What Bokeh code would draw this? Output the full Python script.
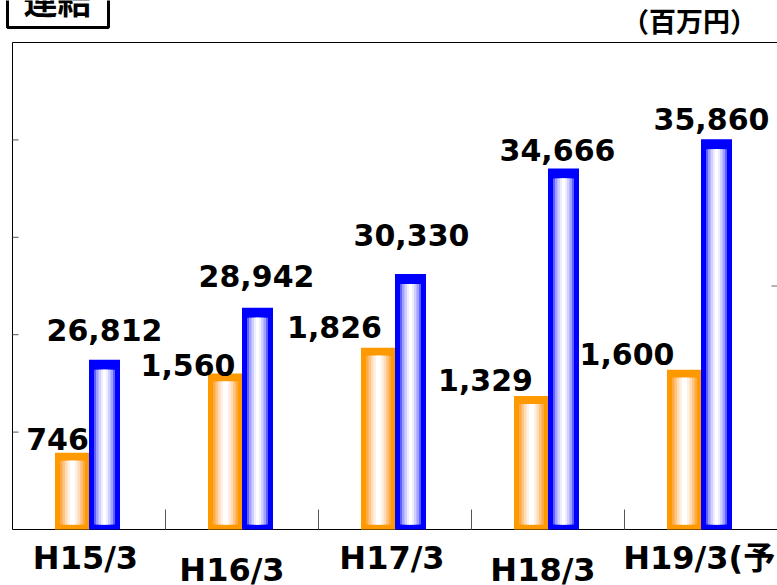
from bokeh.plotting import figure
from bokeh.models import Range1d
from bokeh.core.properties import value
from bokeh.embed import file_html
from bokeh.resources import INLINE

# ---- data (百万円) ----
periods = ["H15/3", "H16/3", "H17/3", "H18/3", "H19/3(予)"]
net_sales = [26812, 28942, 30330, 34666, 35860]      # blue bars, left scale
ordinary_income = [746, 1560, 1826, 1329, 1600]      # orange bars, right scale
sales_labels = ["26,812", "28,942", "30,330", "34,666", "35,860"]
income_labels = ["746", "1,560", "1,826", "1,329", "1,600"]
sales_ticks = [24000, 28000, 32000, 36000]
income_ticks = [2500]

# ---- layout (pixels on the page) ----
W, H = 777, 585
PLOT_L, PLOT_T, PLOT_B = 12, 42, 529          # plot box edges
N = len(periods)
XPU = (W - PLOT_L) / N                        # pixels per period
SALES_RANGE = (20000, 40000)
INCOME_RANGE = (0, 5000)
PLOT_H = PLOT_B - PLOT_T
# the text glyph is anchored a little below the glyph baseline; lift it
LIFT_LATIN = 12
LIFT_CJK_BIG = 17
LIFT_CJK_SMALL = 11


def X(px):
    return (px - PLOT_L) / XPU


def dx(px):
    return px / XPU


def ys_per_px():
    return (SALES_RANGE[1] - SALES_RANGE[0]) / PLOT_H


def yi_per_px():
    return (INCOME_RANGE[1] - INCOME_RANGE[0]) / PLOT_H


def YS(py):
    return SALES_RANGE[0] + (PLOT_B - py) * ys_per_px()


def YI(py):
    return INCOME_RANGE[0] + (PLOT_B - py) * yi_per_px()


centers = [i + 0.5 for i in range(N)]

p = figure(width=W, height=H, x_range=Range1d(X(0), X(W)),
           y_range=Range1d(YS(H), YS(0)), title=None,
           x_axis_type=None, y_axis_type=None,
           toolbar_location=None, output_backend="svg", min_border=0)
p.extra_y_ranges = {"income": Range1d(YI(H), YI(0))}
p.outline_line_color = None
p.background_fill_color = "white"
p.border_fill_color = "white"
p.grid.visible = False

AX = dict(line_color="black", line_width=1)
TICK = dict(line_color="#555555", line_width=1)

# plot box: left, top and bottom edges
p.segment(x0=[0, 0, 0], y0=[SALES_RANGE[0], SALES_RANGE[1], SALES_RANGE[0]],
          x1=[0, N, N], y1=[SALES_RANGE[1], SALES_RANGE[1], SALES_RANGE[0]],
          **AX)
# left scale ticks (pointing inward)
p.segment(x0=[0] * len(sales_ticks), y0=sales_ticks,
          x1=[dx(6)] * len(sales_ticks), y1=sales_ticks, **TICK)
# right scale tick
p.segment(x0=[N - dx(6)] * len(income_ticks), y0=income_ticks,
          x1=[N] * len(income_ticks), y1=income_ticks,
          y_range_name="income", line_color="#666666", line_width=1)
# separators between periods
seps = list(range(1, N))
p.segment(x0=seps, y0=[SALES_RANGE[0]] * len(seps), x1=seps,
          y1=[SALES_RANGE[0] + 20 * ys_per_px()] * len(seps), **TICK)


def striped_bar(values, base, per_px, offset_px, width_px, top_out, top_in,
                bottom_in, outer_color, stripes, **kw):
    xs = [c + dx(offset_px) for c in centers]
    p.vbar(x=xs, width=dx(width_px), bottom=base,
           top=[v + top_out * per_px for v in values],
           fill_color=outer_color, line_color=None, **kw)
    for w, col in stripes:
        p.vbar(x=xs, width=dx(w), bottom=base + bottom_in * per_px,
               top=[v - top_in * per_px for v in values],
               fill_color=col, line_color=None, **kw)


# orange bars: ordinary income
striped_bar(ordinary_income, INCOME_RANGE[0], yi_per_px(), -16.5, 35, 4, 4, 5,
            "#ff9900",
            [(25, "#ffab45"), (20, "#ffc586"), (15, "#ffdcb8"),
             (10, "#fff0e2"), (5, "#ffffff")], y_range_name="income")

# blue bars: net sales
striped_bar(net_sales, SALES_RANGE[0], ys_per_px(), 15.5, 31, 4, 6, 5,
            "#0000ff",
            [(21, "#6060ff"), (17, "#a0a0ff"), (12, "#d0d0ff"),
             (7, "#eeeeff"), (3, "#ffffff")])

LATIN = value("DejaVu Sans")
MIXED = value("DejaVu Sans, Noto Sans CJK JP")
CJK = value("Noto Sans CJK JP")

# value labels above the bars
sales_dx = [15.5, 14.5, 16.5, 9.5, 10.5]
sales_dy = [22, 24, 31, 10, 12]
p.text(x=[c + dx(o) for c, o in zip(centers, sales_dx)],
       y=[v + (d + LIFT_LATIN) * ys_per_px()
          for v, d in zip(net_sales, sales_dy)],
       text=sales_labels, text_align="center", text_baseline="alphabetic",
       text_font=LATIN, text_font_style="bold", text_font_size="30px",
       text_color="black")

income_dx = [-31.5, -54, -60.5, -62.5, -74]
income_dy = [6, 1, 13, 8, 8]
p.text(x=[c + dx(o) for c, o in zip(centers, income_dx)],
       y=[v + (d + LIFT_LATIN) * yi_per_px()
          for v, d in zip(ordinary_income, income_dy)],
       text=income_labels, y_range_name="income", text_align="center",
       text_baseline="alphabetic", text_font=LATIN, text_font_style="bold",
       text_font_size="30px", text_color="black")

# period labels on two staggered rows
period_dx = [-3.5, -10, -3, -5, 5.5]
period_base = [569, 581, 569, 581, 569]
p.text(x=[c + dx(o) for c, o in zip(centers, period_dx)],
       y=[YS(b - LIFT_LATIN) for b in period_base], text=periods,
       text_align="center", text_baseline="alphabetic", text_font=MIXED,
       text_font_style="bold", text_font_size="32px", text_color="black")

# heading box
p.quad(left=[X(7)], right=[X(108)], bottom=[YS(27)], top=[YS(-12)],
       fill_color="white", line_color="black", line_width=3)
p.text(x=[X(57)], y=[YS(16 - LIFT_CJK_BIG)], text=["連結"],
       text_align="center", text_baseline="alphabetic", text_font=CJK,
       text_font_style="bold", text_font_size="34px", text_color="black")

# unit note
p.text(x=[X(689)], y=[YS(31 - LIFT_CJK_SMALL)], text=["（百万円）"],
       text_align="center", text_baseline="alphabetic", text_font=CJK,
       text_font_style="bold", text_font_size="27px", text_color="black")

open("out.html", "w").write(file_html(p, INLINE))
